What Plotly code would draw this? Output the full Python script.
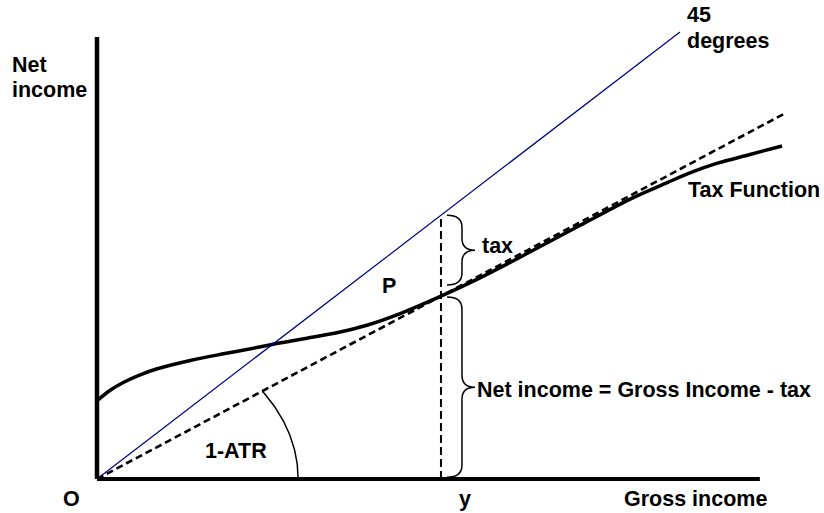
import numpy as np
import plotly.graph_objects as go

# ---- data (income units; 45-degree line is net = gross) ----
tax_gross = [0, 2.2, 4.5, 7.4, 10.2, 16.0, 21.7, 27.4, 30.8, 36.0, 41.7, 46.3, 52.0, 59.0, 65.7, 74.0, 82.8, 91.9, 97.8, 101.7, 106.3, 112.0, 117.5]
tax_net = [17.5, 19.8, 21.6, 23.3, 24.6, 26.5, 28.0, 29.4, 30.3, 31.5, 32.9, 34.4, 37.0, 40.9, 45.0, 50.6, 56.7, 62.9, 66.3, 68.5, 70.6, 72.6, 74.5]
line45_end = 100.0
y_income = 59.0          # gross income y
net_at_y = 40.9          # point P
atr_end = 118.2          # end of 1-ATR ray (gross)
x_axis_end = 113.7
y_axis_end = 98.9
arc_radius = 34.5
tax_brace_low = 43.4
net_brace_top = 40.7
net_brace_low = 0.4

# ---- pixel mapping (layout) ----
X0, Y0, SX, SY = 97.0, 479.0, 5.83, 4.47
W, H = 824, 513
def px2x(p): return (p - X0) / SX
def py2y(p): return (Y0 - p) / SY

atr_slope = net_at_y / y_income

fig = go.Figure()

# tax function
fig.add_trace(go.Scatter(x=tax_gross, y=tax_net, mode="lines",
                         line=dict(color="black", width=3.5, shape="spline", smoothing=1.0),
                         hoverinfo="skip"))
# 45-degree line
fig.add_trace(go.Scatter(x=[0, line45_end], y=[0, line45_end], mode="lines",
                         line=dict(color="#000080", width=1.2), hoverinfo="skip"))
# 1-ATR ray
fig.add_trace(go.Scatter(x=[0, atr_end], y=[0, atr_end * atr_slope], mode="lines",
                         line=dict(color="black", width=2.6, dash="7px,4px"), hoverinfo="skip"))
# vertical dashed line at y
fig.add_trace(go.Scatter(x=[y_income, y_income], y=[0, y_income], mode="lines",
                         line=dict(color="black", width=2, dash="8px,4px"), hoverinfo="skip"))
# angle arc
theta = np.linspace(0, np.arctan(atr_slope), 60)
fig.add_trace(go.Scatter(x=arc_radius * np.cos(theta), y=arc_radius * np.sin(theta), mode="lines",
                         line=dict(color="black", width=1.5), hoverinfo="skip"))

# axes
fig.add_shape(type="line", x0=0, y0=0, x1=0, y1=y_axis_end, line=dict(color="black", width=4.5))
fig.add_shape(type="line", x0=0, y0=0, x1=x_axis_end, y1=0, line=dict(color="black", width=4))

# braces
def brace(top, bottom):
    x0 = y_income + px2x(447) - px2x(441)
    xm = y_income + px2x(462) - px2x(441)
    xt = y_income + px2x(475) - px2x(441)
    h = 12 / SY
    ym = (top + bottom) / 2
    return (f"M {x0},{top} Q {xm},{top} {xm},{top - h} L {xm},{ym + h} "
            f"Q {xm},{ym} {xt},{ym} Q {xm},{ym} {xm},{ym - h} "
            f"L {xm},{bottom + h} Q {xm},{bottom} {x0},{bottom}")

fig.add_shape(type="path", path=brace(y_income, tax_brace_low), line=dict(color="black", width=1.5))
fig.add_shape(type="path", path=brace(net_brace_top, net_brace_low), line=dict(color="black", width=1.5))

FONT = dict(family="Liberation Sans, Arial, sans-serif", size=21.5, color="black")
def label(text, px, py, xanchor="left"):
    fig.add_annotation(x=px2x(px), y=py2y(py), text=f"<b>{text}</b>", showarrow=False,
                       xanchor=xanchor, yanchor="middle", font=FONT)

label("Net", 10, 65)
label("income", 10, 90)
label("45", 685, 15)
label("degrees", 685, 41)
label("Tax Function", 686, 190)
label("tax", 480, 246)
label("P", 389, 286, "center")
label("Net income = Gross Income - tax", 475, 390)
label("1-ATR", 236, 451, "center")
label("O", 71, 499, "center")
label("y", 465, 499, "center")
label("Gross income", 695, 499, "center")

fig.update_layout(
    width=W, height=H, margin=dict(l=0, r=0, t=0, b=0),
    paper_bgcolor="white", plot_bgcolor="white", showlegend=False,
    xaxis=dict(range=[px2x(0), px2x(W)], visible=False, fixedrange=True),
    yaxis=dict(range=[py2y(H), py2y(0)], visible=False, fixedrange=True),
)
fig.write_html("out.html", config={"displayModeBar": False},
               post_script="document.body.style.margin='0';document.body.style.overflow='hidden';")
